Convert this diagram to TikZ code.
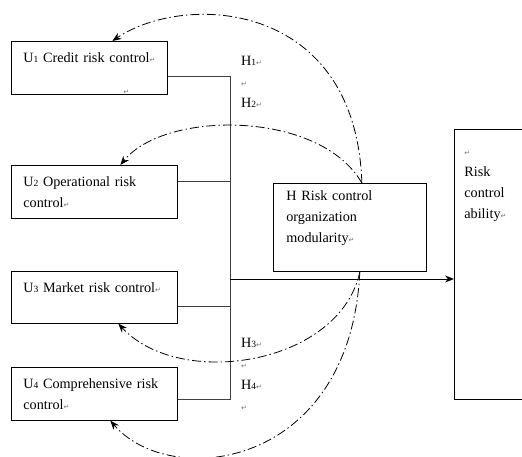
\documentclass[tikz,border=0pt]{standalone}
\usepackage{fontspec}
\setmainfont{Liberation Serif}
\newfontfamily\symfont{DejaVu Sans}
\usetikzlibrary{arrows.meta}
\newcommand{\ret}{{\symfont\fontsize{7}{7}\selectfont\color{black!55}↵}}
\newcommand{\idx}[1]{{\fontsize{9.5}{9.5}\selectfont #1}}
\begin{document}
\begin{tikzpicture}[x=1pt, y=-1pt, font=\fontsize{14.2}{21}\selectfont,
    box/.style={draw, line width=0.7pt, anchor=north west, align=left, inner xsep=12pt, inner ysep=0pt},
    ubox/.style={box, text width=142pt, text height=21pt, text depth=32pt},
    hlabel/.style={anchor=north west, align=left, inner sep=0pt, text width=30pt, text height=12pt},
    bus/.style={draw=black!75, line width=1pt},
    hyp/.style={line width=0.8pt, dash pattern=on 9pt off 3pt on 1.5pt off 3pt},
    >={Stealth[length=9pt, width=7pt]}]
        \useasboundingbox (0,0) rectangle (522,457);
        \node[ubox, text width=132pt] (u1) at (11,41) {\mbox{U\idx{1} Credit risk control\ret}\\[11pt]\hspace*{100pt}\ret};
        \node[ubox] (u2) at (11,165) {U\idx{2} Operational risk\\control\ret};
        \node[ubox, text depth=31pt] (u3) at (11,271) {U\idx{3} Market risk control\ret};
        \node[ubox] (u4) at (11,367) {U\idx{4} Comprehensive risk\\control\ret};
        \node[box, inner xsep=13pt, text width=127pt, text height=17pt, text depth=71pt] (h) at (273,183) {H Risk control\\organization\\modularity\ret};
        \node[box, inner xsep=10pt, text width=100pt, text height=26pt, text depth=244pt] (risk) at (454,129) {\ret\\Risk\\control\\ability\ret};
        \node[hlabel] (h12) at (241,53) {H\idx{1}\ret\\\ret\\H\idx{2}\ret};
        \node[hlabel] (h34) at (241,335) {H\idx{3}\ret\\\ret\\H\idx{4}\ret\\\ret};
        \coordinate (b1) at (230,77);
        \coordinate (b2) at (230,182);
        \coordinate (bm) at (230,279);
        \coordinate (b3) at (230,306);
        \coordinate (b4) at (230,399);
        \draw[bus] (b1 -| u1.east) -- (b1) -- (b4) -- (b4 -| u4.east);
        \draw[bus] (b2 -| u2.east) -- (b2);
        \draw[bus] (b3 -| u3.east) -- (b3);
        \draw[bus, draw=black, ->] (bm) -- (bm -| risk.west);
        \draw[hyp, ->] ([xshift=12pt]h.north) .. controls (356,0) and (185,-8) .. ([xshift=23pt]u1.north);
        \draw[hyp, ->] ([xshift=12pt]h.north) .. controls (320,110) and (165,110) .. ([xshift=26pt]u2.north);
        \draw[hyp, ->] ([xshift=10pt]h.south) .. controls (340,365) and (180,390) .. ([xshift=24pt]u3.south);
        \draw[hyp, ->] ([xshift=10pt]h.south) .. controls (350,470) and (170,490) .. ([xshift=16pt]u4.south);
\end{tikzpicture}
\end{document}
